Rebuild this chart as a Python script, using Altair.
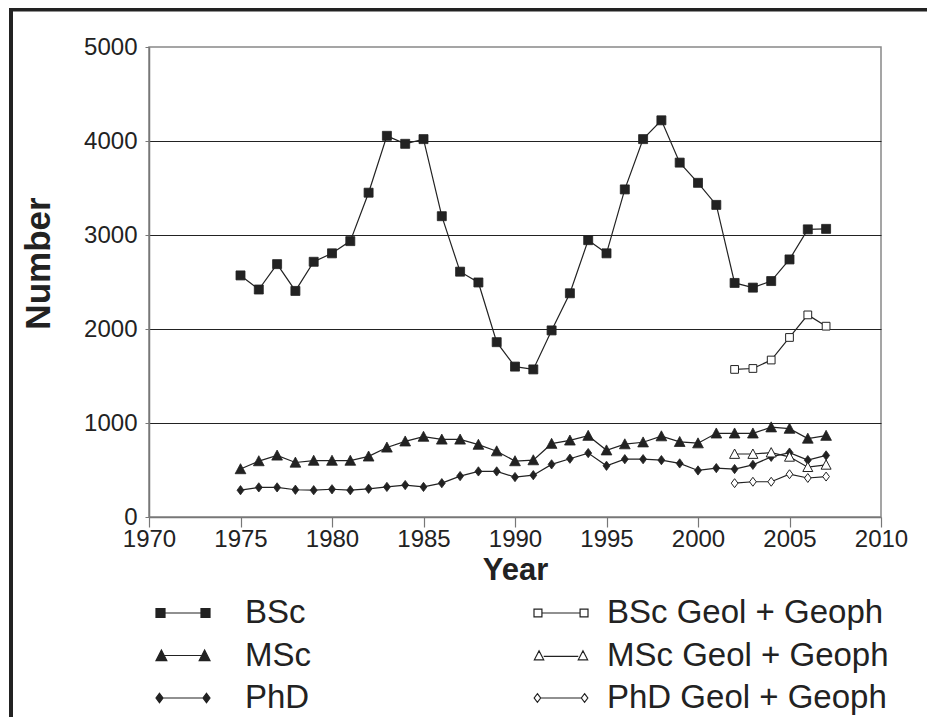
import altair as alt
import pandas as pd

# ---------------- data ----------------
years = [1975, 1976, 1977, 1978, 1979, 1980, 1981, 1982, 1983, 1984, 1985,
         1986, 1987, 1988, 1989, 1990, 1991, 1992, 1993, 1994, 1995, 1996,
         1997, 1998, 1999, 2000, 2001, 2002, 2003, 2004, 2005, 2006, 2007]
bsc = [2570, 2420, 2690, 2405, 2715, 2805, 2935, 3450, 4055, 3970, 4020,
       3200, 2610, 2495, 1860, 1600, 1570, 1985, 2380, 2945, 2805, 3485,
       4020, 4220, 3770, 3555, 3320, 2490, 2440, 2510, 2740, 3060, 3065]
msc = [510, 595, 655, 580, 600, 600, 600, 645, 740, 805, 855,
       825, 825, 770, 700, 595, 605, 780, 815, 865, 710, 775,
       795, 860, 800, 785, 890, 890, 890, 955, 940, 835, 865]
phd = [285, 315, 315, 290, 285, 295, 285, 300, 320, 340, 320,
       360, 435, 485, 485, 425, 445, 560, 620, 680, 545, 615,
       615, 605, 570, 495, 520, 510, 555, 640, 685, 605, 655]

geo_years = [2002, 2003, 2004, 2005, 2006, 2007]
bsc_geo = [1570, 1580, 1670, 1910, 2150, 2030]
msc_geo = [670, 670, 685, 640, 530, 555]
phd_geo = [360, 375, 375, 455, 415, 430]

main_names = ["BSc", "MSc", "PhD"]
geo_names = ["BSc Geol + Geoph", "MSc Geol + Geoph", "PhD Geol + Geoph"]

x_ticks = [1970, 1975, 1980, 1985, 1990, 1995, 2000, 2005, 2010]
y_ticks = [0, 1000, 2000, 3000, 4000, 5000]

rows = []
for name, vals in zip(main_names, [bsc, msc, phd]):
    for yr, v in zip(years, vals):
        rows.append({"year": yr, "value": v, "series": name})
for name, vals in zip(geo_names, [bsc_geo, msc_geo, phd_geo]):
    for yr, v in zip(geo_years, vals):
        rows.append({"year": yr, "value": v, "series": name})
df = pd.DataFrame(rows)

# ---------------- styling ----------------
FONT = "Liberation Sans"
INK = "#222222"

# marker shapes (unit box -1..1)
SQUARE = "M-1,-1H1V1H-1Z"
TRI = "M0,-1L1,0.87L-1,0.87Z"
DIAM = "M0,-1L0.75,0L0,1L-0.75,0Z"

# legend symbols: line with a marker at each end
LEG_SQ = ("M-1.5,-0.25H-1V0.25H-1.5Z M1,-0.25H1.5V0.25H1Z M-1,0H1")
LEG_TRI = ("M-1.2,-0.3L-0.9,0.28L-1.5,0.28Z M1.2,-0.3L1.5,0.28L0.9,0.28Z M-1.2,0H1.2")
LEG_DI = ("M-1.306,-0.26L-1.11,0L-1.306,0.26L-1.5,0Z "
          "M1.306,-0.26L1.5,0L1.306,0.26L1.11,0Z M-1.306,0H1.306")
LEG_SQ_H = ("M-1.5,-0.22H-1.06V0.22H-1.5Z M1.06,-0.22H1.5V0.22H1.06Z M-1.06,0H1.06")
LEG_TRI_H = ("M-1.22,-0.26L-0.96,0.24L-1.48,0.24Z M1.22,-0.26L1.48,0.24L0.96,0.24Z M-0.96,0.05H0.96")
LEG_DI_H = ("M-1.31,-0.24L-1.13,0L-1.31,0.24L-1.49,0Z "
            "M1.31,-0.24L1.49,0L1.31,0.24L1.13,0Z M-1.13,0H1.13")

x_enc = alt.X("year:Q",
              scale=alt.Scale(domain=[1970, 2010], nice=False, zero=False),
              axis=alt.Axis(values=x_ticks, format="d", title="Year",
                            grid=False, tickSize=10, labelPadding=0,
                            labelFont=FONT, labelFontSize=24, labelColor=INK,
                            labelFlush=False, labelOverlap=False,
                            domainColor="#777777", tickColor="#777777",
                            domainWidth=1.5, tickWidth=1.2,
                            titleFont=FONT, titleFontSize=31, titleFontWeight="bold",
                            titleColor=INK, titleX=366, titleY=53,
                            titleBaseline="middle", titleAlign="center"))
y_enc = alt.Y("value:Q",
              scale=alt.Scale(domain=[0, 5000], nice=False),
              axis=alt.Axis(values=y_ticks, format="d", title="Number", grid=True,
                            gridColor={"condition": {"test": "datum.value == 0 || datum.value == 5000",
                                                     "value": "transparent"},
                                       "value": "#222222"},
                            gridWidth=1.2, tickSize=4, labelPadding=8,
                            labelFont=FONT, labelFontSize=24, labelColor=INK,
                            labelFlush=False, labelOverlap=False,
                            domainColor="#777777", tickColor="#777777",
                            domainWidth=1.5,
                            titleFont=FONT, titleFontSize=35, titleFontWeight="bold",
                            titleColor=INK, titleX=-111, titleY=216, titleAngle=270,
                            titleBaseline="middle", titleAlign="center"))

base = alt.Chart(df)

lines = base.mark_line(color=INK, strokeWidth=1.2).encode(
    x=x_enc, y=y_enc, detail="series:N")


def pts(name, shape, size, filled):
    return base.transform_filter(alt.datum.series == name).mark_point(
        shape=shape, size=size, filled=True,
        fill=INK if filled else "white", stroke=INK,
        strokeWidth=0.8 if filled else 1.0, opacity=1).encode(x="year:Q", y="value:Q")


markers = [
    pts("BSc", SQUARE, 81, True),
    pts("MSc", TRI, 115, True),
    pts("PhD", DIAM, 86, True),
    pts("BSc Geol + Geoph", SQUARE, 60, False),
    pts("MSc Geol + Geoph", TRI, 100, False),
    pts("PhD Geol + Geoph", DIAM, 80, False),
]


def legend_layer(names, paths, fill, lx, ly, loff):
    def leg():
        return alt.Legend(orient="none", legendX=lx, legendY=ly,
                          direction="vertical", title=None,
                          padding=0, symbolSize=1296,
                          symbolStrokeWidth=1.2,
                          symbolOpacity=1,
                          labelFont=FONT, labelFontSize=33,
                          labelColor=INK, labelOffset=loff,
                          labelLimit=500, rowPadding=6.5)
    return base.transform_filter(
        alt.FieldOneOfPredicate(field="series", oneOf=names)
    ).mark_point(opacity=0, filled=False, fill=fill).encode(
        x="year:Q", y="value:Q",
        shape=alt.Shape("series:N",
                        scale=alt.Scale(domain=names, range=paths),
                        legend=leg()),
        color=alt.Color("series:N",
                        scale=alt.Scale(domain=names, range=[INK, INK, INK]),
                        legend=leg()))


leg_main = legend_layer(main_names, [LEG_SQ, LEG_TRI, LEG_DI], INK, 15, 547, 43)
leg_geo = legend_layer(geo_names, [LEG_SQ_H, LEG_TRI_H, LEG_DI_H], "white", 393, 547, 27)

frame = alt.Chart(pd.DataFrame({"k": [0]})).mark_rect(
    fill=None, stroke=INK, strokeWidth=4).encode(
    x=alt.value(-138), x2=alt.value(900), y=alt.value(-37.5), y2=alt.value(900))

chart = alt.layer(lines, *markers, leg_main, leg_geo, frame).resolve_scale(
    shape="independent", color="independent"
).properties(
    width=732, height=470,
    padding={"left": 141, "top": 39, "right": 46, "bottom": 200},
    autosize=alt.AutoSizeParams(type="none"),
    background="white",
).configure_view(stroke="#888888", strokeWidth=1.5)

chart.save("out.html", embed_options={"renderer": "svg", "actions": False})
